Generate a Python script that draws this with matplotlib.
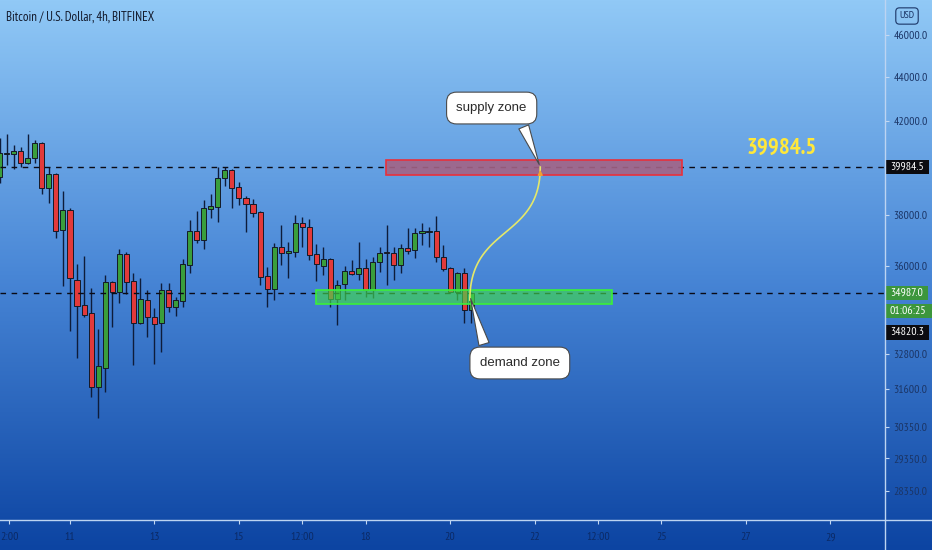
import numpy as np
import matplotlib
matplotlib.use("Agg")
import matplotlib.pyplot as plt
from matplotlib.patches import Rectangle
from matplotlib.lines import Line2D
from matplotlib.ticker import NullLocator, FixedLocator, FixedFormatter

# ---------------- data ----------------
candle_idx = list(range(-10, 58))  # 4h candles, 0 = day 11 00:00
opens = [39564, 40541, 40541, 40670, 40156, 40370, 41017, 39104, 39690, 37399,
         38201, 35466, 34537, 34245, 31659, 32304, 35391, 35018, 36459, 35428,
         33884, 34721, 34100, 33884, 35092, 34464, 34684, 36036, 37360, 37004,
         38242, 38323, 39521, 39858, 39146, 38691, 38446, 38120, 35617, 35129,
         36730, 36497, 36536, 37678, 37519, 36459, 35997, 36266, 34758, 35316,
         35806, 35693, 35921, 35092, 36150, 36536, 36497, 36036, 36691, 36613,
         37281, 37340, 37360, 36343, 35921, 35018, 35731, 34354]
highs = [41235, 41411, 40930, 40843, 41411, 41148, 41061, 39986, 39730, 38980,
         38283, 36074, 36381, 35167, 33669, 35655, 35428, 36652, 36536, 35731,
         35542, 35092, 34427, 35354, 35354, 34832, 36266, 37798, 38161, 38609,
         38856, 39986, 39986, 39901, 39354, 38774, 38650, 38161, 35959, 36887,
         37599, 36926, 37999, 37919, 37839, 36848, 36730, 36304, 35466, 35997,
         36227, 36926, 36266, 36343, 36730, 37599, 36730, 36848, 37479, 37479,
         37678, 37519, 37959, 36809, 35959, 35768, 35921, 35030]
lows = [39312, 40071, 39901, 39986, 40120, 40156, 38856, 38487, 37083, 35242,
        33598, 32648, 34100, 31325, 30634, 31491, 33741, 34611, 34944, 32407,
        33848, 33384, 32441, 32857, 34281, 34137, 34464, 35731, 36887, 36652,
        37879, 37718, 39187, 38283, 38405, 37320, 37919, 35279, 34464, 34721,
        36036, 35542, 36343, 36730, 36227, 35428, 35655, 34464, 33812, 34721,
        35655, 35466, 34832, 34795, 35768, 35279, 35466, 35731, 36459, 36304,
        36809, 36730, 36150, 35806, 34981, 34721, 33884, 33884]
closes = [40584, 40584, 40670, 40156, 40370, 41017, 39104, 39690, 37360, 38201,
          35542, 34501, 34173, 31659, 32373, 35391, 35018, 36459, 35391, 33884,
          34758, 34100, 33848, 35092, 34464, 34721, 36074, 37360, 37004, 38283,
          38364, 39521, 39858, 39104, 38691, 38446, 38080, 35580, 35129, 36730,
          36497, 36574, 37678, 37519, 36420, 36074, 36266, 34758, 35279, 35806,
          35693, 35921, 35092, 36150, 36497, 36497, 36036, 36691, 36574, 37281,
          37360, 37360, 36343, 35882, 35018, 35731, 34354, 34987]

y_ticks = [46000, 44000, 42000, 38000, 36000, 32800, 31600, 30350, 29350, 28350]
y_tick_labels = ["46000.0", "44000.0", "42000.0", "38000.0", "36000.0",
                 "32800.0", "31600.0", "30350.0", "29350.0", "28350.0"]
x_ticks = [-8.6, 0, 12, 24, 33, 42, 54, 66, 75, 84, 96, 108]
x_tick_labels = ["2:00", "11", "13", "15", "12:00", "18", "20", "22",
                 "12:00", "25", "27", "29"]

supply_level = 39984.5
last_price = 34987.0
other_price = 34820.3
countdown = "01:06:25"
supply_zone = dict(x0=44.9, x1=86.9, lo=39650, hi=40284)
demand_zone = dict(x0=34.9, x1=77.0, lo=34574, hi=35092)
title = "Bitcoin / U.S. Dollar, 4h, BITFINEX"

NARROW = ["PT Sans Narrow", "Roboto Condensed", "DejaVu Sans"]
SANS = ["Liberation Sans", "DejaVu Sans"]

# ---------------- figure ----------------
W, H = 932, 550
fig = plt.figure(figsize=(W / 100, H / 100), dpi=100)

# background gradient
bg = fig.add_axes([0, 0, 1, 1], zorder=-5)
stops = np.array([[0.0, 145, 201, 246],
                  [0.5, 72, 134, 214],
                  [1.0, 12, 68, 162]])
t = np.linspace(0, 1, 550)
grad = np.stack([np.interp(t, stops[:, 0], stops[:, c]) for c in (1, 2, 3)], axis=-1) / 255.0
grad = np.repeat(grad[:, None, :], 4, axis=1)
bg.imshow(grad, extent=[0, 1, 0, 1], aspect="auto", origin="upper")
bg.set_axis_off()

ax = fig.add_axes([0, 30 / H, 885 / W, 520 / H])
ax.patch.set_alpha(0)
ax.set_yscale("log")
ax.set_ylim(27490, 47742)
ax.set_xlim(-9.94, 115.77)
for s in ax.spines.values():
    s.set_visible(False)

# candles
O = np.array(opens, float); C = np.array(closes, float)
Hh = np.array(highs, float); L = np.array(lows, float)
x = np.array(candle_idx)
up = C >= O
body_colors = np.where(up, "#3a9e3c", "#e23a3a")
ax.vlines(x, L, Hh, color="#0e1c3a", lw=1.0, zorder=2)
ax.bar(x, np.maximum(np.abs(C - O), 8), bottom=np.minimum(O, C), width=0.72,
       color=body_colors, edgecolor="#141a28", linewidth=0.7, zorder=3)

# dashed levels
ax.axhline(supply_level, color="#0a0a14", lw=1.0, ls=(0, (4, 4)), zorder=4)
ax.axhline(last_price, color="#0a0a14", lw=1.0, ls=(0, (4, 4)), zorder=4)

# zones
ax.add_patch(Rectangle((supply_zone["x0"], supply_zone["lo"]),
                       supply_zone["x1"] - supply_zone["x0"],
                       supply_zone["hi"] - supply_zone["lo"],
                       fc=(0.64, 0.39, 0.52, 0.9), ec="#e8303c", lw=1.2, zorder=5))
ax.add_patch(Rectangle((demand_zone["x0"], demand_zone["lo"]),
                       demand_zone["x1"] - demand_zone["x0"],
                       demand_zone["hi"] - demand_zone["lo"],
                       fc=(0.25, 0.85, 0.3, 0.65), ec="#3af03a", lw=1.2, zorder=5))

# projected path (cubic bezier in k / log-price space)
p0 = (56.8, np.log(34721)); p1 = (56.8, np.log(37599))
p2 = (66.8, np.log(37004)); p3 = (66.8, np.log(supply_level))
tt = np.linspace(0, 1, 120)
bx = ((1 - tt) ** 3 * p0[0] + 3 * (1 - tt) ** 2 * tt * p1[0]
      + 3 * (1 - tt) * tt ** 2 * p2[0] + tt ** 3 * p3[0])
by = ((1 - tt) ** 3 * p0[1] + 3 * (1 - tt) ** 2 * tt * p1[1]
      + 3 * (1 - tt) * tt ** 2 * p2[1] + tt ** 3 * p3[1])
ax.plot(bx, np.exp(by), color="#e4e86a", lw=1.2, zorder=6)
ax.annotate("", xy=(66.8, supply_level), xytext=(66.8, 39600),
            arrowprops=dict(arrowstyle="-|>", color="#f0a030", lw=1.0,
                            mutation_scale=7), zorder=7)

# callouts
ax.annotate("supply zone", xy=(66.8, supply_level), xytext=(59.9, 42569),
            ha="center", va="center", fontsize=9.5, color="#2a2a2a", family=SANS,
            bbox=dict(boxstyle="round,pad=0.75", fc="white", ec="#4a4a4a", lw=0.8),
            arrowprops=dict(arrowstyle="wedge,tail_width=0.8,shrink_factor=0.5",
                            fc="white", ec="#4a4a4a", lw=0.8, relpos=(0.88, 0.0)),
            zorder=8)
ax.annotate("demand zone", xy=(56.8, 34870), xytext=(63.9, 32475),
            ha="center", va="center", fontsize=9.5, color="#2a2a2a", family=SANS,
            bbox=dict(boxstyle="round,pad=0.75", fc="white", ec="#4a4a4a", lw=0.8),
            arrowprops=dict(arrowstyle="wedge,tail_width=0.8,shrink_factor=0.5",
                            fc="white", ec="#4a4a4a", lw=0.8, relpos=(0.1, 1.0)),
            zorder=8)

# big yellow level label
ax.text(101.1, 40800, f"{supply_level}", color="#ffe83a", fontsize=16.5,
        fontweight="bold", family=NARROW, ha="center", va="center", zorder=8)

# axes ticks
ax.yaxis.tick_right()
ax.yaxis.set_minor_locator(NullLocator())
ax.yaxis.set_major_locator(FixedLocator(y_ticks))
ax.yaxis.set_major_formatter(FixedFormatter(y_tick_labels))
ax.set_xticks(x_ticks)
ax.set_xticklabels(x_tick_labels)
ax.tick_params(axis="y", which="major", direction="out", length=3, width=0.8,
               color="#c4d8f2", labelcolor="#1b3566", pad=3, labelsize=8.5)
ax.tick_params(axis="x", direction="out", length=3, width=0.8,
               color="#c4d8f2", labelcolor="#0b2a66", pad=6, labelsize=8.5)
for lab in ax.get_yticklabels() + ax.get_xticklabels():
    lab.set_family(NARROW)

# price labels on the axis
def price_label(price, text, fc, dy_px=0):
    ax.annotate(text, xy=(1.0, price), xycoords=("axes fraction", "data"),
                xytext=(5 * 0.72, dy_px * 0.72), textcoords="offset points",
                ha="left", va="center", fontsize=8.5, color="white", family=NARROW,
                bbox=dict(boxstyle="square,pad=0.42", mutation_aspect=0.45,
                          fc=fc, ec="none"),
                annotation_clip=False, zorder=9)

price_label(supply_level, f"{supply_level}", "#0b0b10")
price_label(last_price, f"{last_price:.1f}", "#3c963c")
price_label(last_price, countdown, "#3c963c", dy_px=-18)
price_label(other_price, f"{other_price}", "#0b0b10", dy_px=-35)

# frame lines of the price/time scales
fig.add_artist(Line2D([885 / W, 885 / W], [0, 1], transform=fig.transFigure,
                      color="#bcd4f2", lw=1.0))
fig.add_artist(Line2D([0, 1], [30 / H, 30 / H], transform=fig.transFigure,
                      color="#bcd4f2", lw=1.0))

# title and currency badge
fig.text(6 / W, 1 - 17 / H, title, fontsize=9.3, color="#131a2c", family=NARROW,
         va="center", ha="left")
fig.text(907 / W, 1 - 16 / H, "USD", fontsize=7.5, color="#1b3566", family=NARROW,
         va="center", ha="center",
         bbox=dict(boxstyle="round,pad=0.35", fc="none", ec="#1b3566", lw=0.8))

fig.savefig("out.png", dpi=100)
